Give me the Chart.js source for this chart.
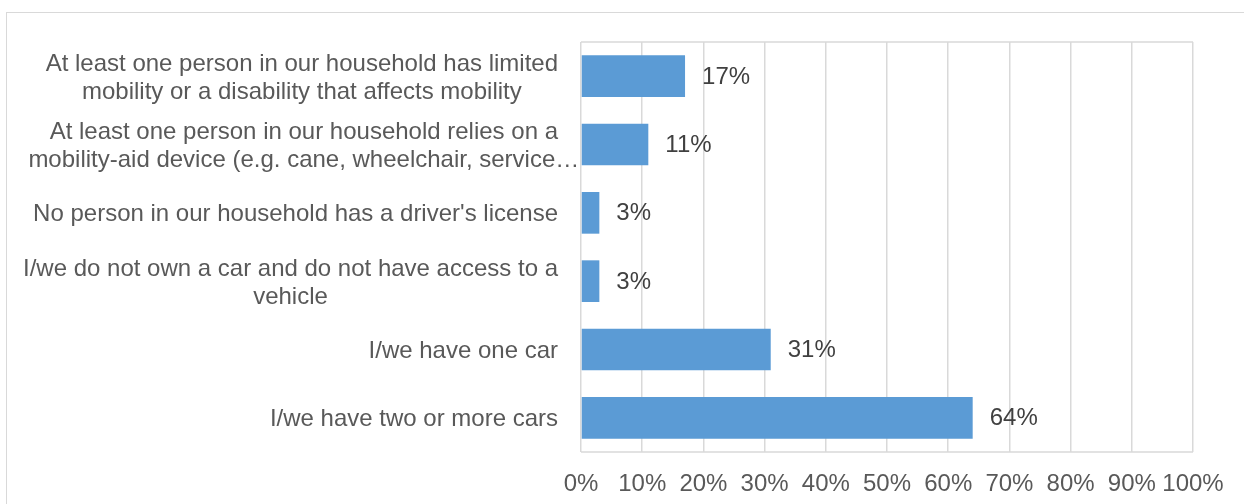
<!DOCTYPE html>
<html>
<head>
<meta charset="utf-8">
<script src="https://cdn.jsdelivr.net/npm/chart.js@4/dist/chart.umd.min.js"></script>
<style>
  html, body { margin: 0; padding: 0; background: #fff; overflow: hidden; }
  #frame {
    position: absolute; left: 6px; top: 12px;
    width: 1400px; height: 700px;
    border: 1px solid #d9d9d9;
  }
  #chart { position: absolute; left: 0; top: 0; }
</style>
</head>
<body>
<div id="frame"></div>
<canvas id="chart" width="1244" height="504"></canvas>
<script>
// category labels, already wrapped the way they should appear
const categories = [
    ['At least one person in our household has limited', 'mobility or a disability that affects mobility'],
    ['At least one person in our household relies on a', 'mobility-aid device (e.g. cane, wheelchair, service\u2026'],
    ["No person in our household has a driver's license"],
    ['I/we do not own a car and do not have access to a', 'vehicle'],
    ['I/we have one car'],
    ['I/we have two or more cars']
];
const shares = [17, 11, 3, 3, 31, 64];
const xTicks = [0, 10, 20, 30, 40, 50, 60, 70, 80, 90, 100];

const FONT = '"Liberation Sans", Arial, sans-serif';
const GRID = '#d9d9d9';

// category labels: lines centered in a right-aligned block; a truncated
// line (ending in an ellipsis) doesn't widen the block and spills out
const categoryLabels = {
    id: 'categoryLabels',
    afterDraw(chart) {
        const ctx = chart.ctx;
        const y = chart.scales.y;
        const right = chart.chartArea.left - 23;
        const lineH = 28;
        ctx.save();
        ctx.font = '24px ' + FONT;
        ctx.fillStyle = '#595959';
        ctx.textAlign = 'center';
        ctx.textBaseline = 'middle';
        categories.forEach((lines, i) => {
            let full = lines.filter(l => !l.endsWith('\u2026'));
            if (!full.length) full = lines;
            const w = Math.max(...full.map(l => ctx.measureText(l).width));
            const cx = right - w / 2;
            const cy = y.getPixelForValue(i) + 2;
            const top = cy - (lines.length - 1) * lineH / 2;
            lines.forEach((l, j) => ctx.fillText(l, cx, top + j * lineH));
        });
        ctx.restore();
    }
};

// top and bottom edges of the plot area
const plotEdges = {
    id: 'plotEdges',
    beforeDatasetsDraw(chart) {
        const { ctx, chartArea: a } = chart;
        ctx.save();
        ctx.strokeStyle = GRID;
        ctx.lineWidth = 1.5;
        ctx.beginPath();
        ctx.moveTo(a.left, a.top);
        ctx.lineTo(a.right, a.top);
        ctx.moveTo(a.left, a.bottom);
        ctx.lineTo(a.right, a.bottom);
        ctx.stroke();
        ctx.restore();
    }
};

// value labels just past the end of each bar
const valueLabels = {
    id: 'valueLabels',
    afterDatasetsDraw(chart) {
        const ctx = chart.ctx;
        const meta = chart.getDatasetMeta(0);
        ctx.save();
        ctx.font = '24px ' + FONT;
        ctx.fillStyle = '#404040';
        ctx.textAlign = 'left';
        ctx.textBaseline = 'middle';
        meta.data.forEach((bar, i) => {
            ctx.fillText(shares[i] + '%', bar.x + 17, bar.y + 1);
        });
        ctx.restore();
    }
};

new Chart(document.getElementById('chart'), {
    type: 'bar',
    data: {
        labels: categories.map(l => l.join(' ')),
        datasets: [{
            data: shares,
            backgroundColor: '#5b9bd5',
            borderWidth: 0,
            categoryPercentage: 1,
            barPercentage: 0.61
        }]
    },
    options: {
        indexAxis: 'y',
        responsive: false,
        animation: false,
        layout: { padding: { left: 581, right: 51, top: 42, bottom: 0 } },
        plugins: {
            legend: { display: false },
            tooltip: { enabled: false }
        },
        scales: {
            x: {
                min: 0,
                max: 100,
                afterBuildTicks(axis) {
                    axis.ticks = xTicks.map(v => ({ value: v }));
                },
                afterFit(axis) { axis.height = 52; },
                grid: { color: GRID, lineWidth: 1.5, drawTicks: false },
                border: { display: false },
                ticks: {
                    padding: 18,
                    autoSkip: false,
                    color: '#595959',
                    font: { family: FONT, size: 24 },
                    callback: v => v + '%',
                    maxRotation: 0
                }
            },
            y: {
                grid: { display: false },
                border: { display: false },
                ticks: { display: false },
                afterFit(axis) { axis.width = 0; }
            }
        }
    },
    plugins: [plotEdges, valueLabels, categoryLabels]
});
</script>
</body>
</html>
